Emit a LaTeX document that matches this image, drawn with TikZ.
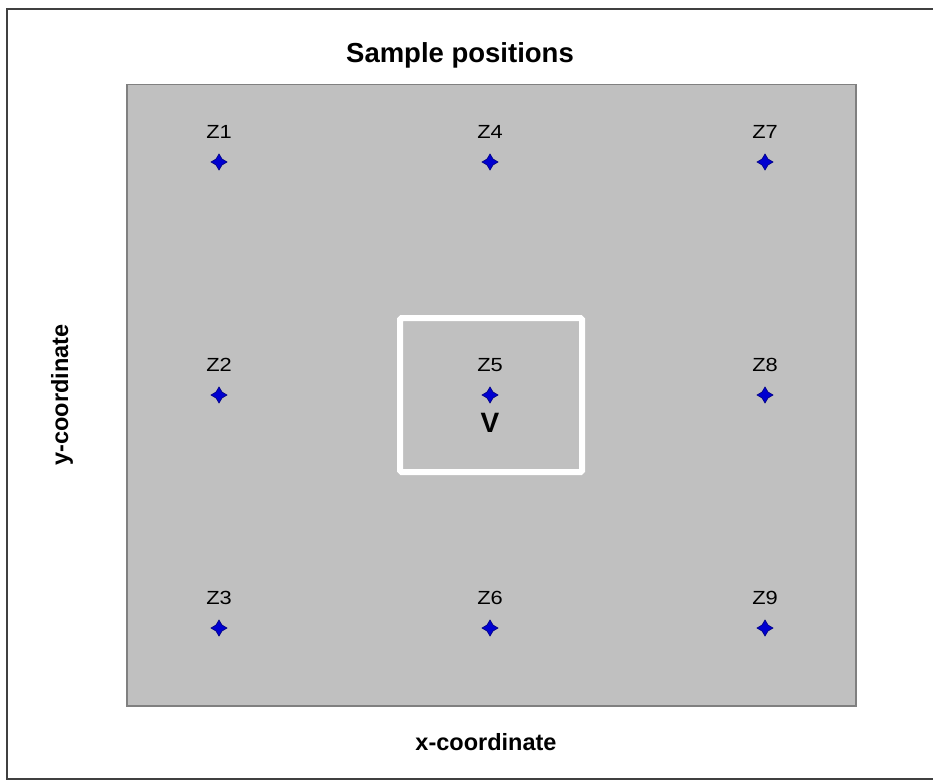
\documentclass[tikz,border=0pt]{standalone}
\usepackage{fontspec}
\setmainfont{Liberation Sans}
\usetikzlibrary{calc}
\definecolor{panelgray}{HTML}{C0C0C0}
\definecolor{paneledge}{HTML}{808080}
\definecolor{framegray}{HTML}{404040}
\definecolor{markblue}{HTML}{0000D0}
\definecolor{markedge}{HTML}{000080}
\begin{document}
\begin{tikzpicture}[x=1pt,y=-1pt,
  lbl/.style={font=\fontsize{19}{19}\selectfont, inner sep=0pt, anchor=base, xscale=1.15},
  axlbl/.style={font=\fontsize{23.5}{23.5}\selectfont\bfseries, inner sep=0pt},
  ttl/.style={font=\fontsize{27.5}{27.5}\selectfont\bfseries, inner sep=0pt, anchor=base},
  sampmark/.style={fill=markblue, draw=markedge, line width=0.6pt}]
\useasboundingbox (0,0) rectangle (933,781);
% outer frame (open on the right)
\draw[framegray, line width=2.5pt] (933,9) -- (7,9) -- (7,779) -- (933,779);
% plot panel
\node[draw=paneledge, fill=panelgray, line width=1.5pt, minimum width=729pt, minimum height=621pt, inner sep=0pt, anchor=north west] (panel) at (126,84) {};
% title and axis labels
\node[ttl] (title) at (460,63) {Sample positions};
\node[axlbl, anchor=base] (xlab) at (486,750) {x-coordinate};
\node[axlbl, anchor=base, rotate=90] (ylab) at (68,395) {y-coordinate};
% white window
\draw[white, line width=6pt, rounded corners=1.5pt] (400,318) rectangle (582,472);
% sample positions
\foreach \n/\x/\y in {1/219/162, 2/219/395, 3/219/628, 4/490/162, 5/490/395, 6/490/628, 7/765/162, 8/765/395, 9/765/628} {
  \coordinate (p\n) at (\x,\y);
  \draw[sampmark] ($(p\n)+(-8,0)$) -- ($(p\n)+(-3,-3)$) -- ($(p\n)+(0,-8)$) -- ($(p\n)+(3,-3)$) -- ($(p\n)+(8,0)$) -- ($(p\n)+(3,3)$) -- ($(p\n)+(0,8)$) -- ($(p\n)+(-3,3)$) -- cycle;
  \node[lbl] (z\n) at ($(p\n)+(0,-24)$) {Z\n};
}
\node[font=\fontsize{28}{28}\selectfont\bfseries, inner sep=0pt, anchor=base] (v) at (490,432) {V};
\end{tikzpicture}
\end{document}
